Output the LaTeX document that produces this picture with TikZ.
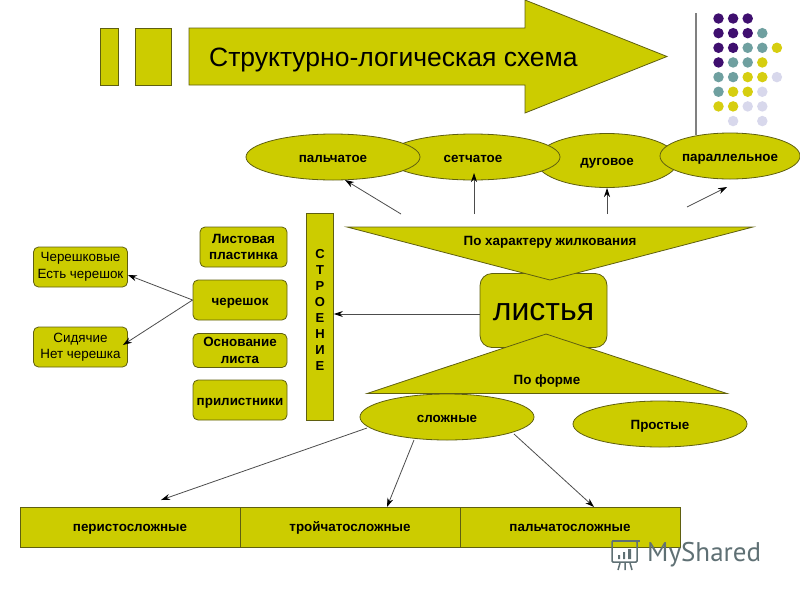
\documentclass[tikz,border=0pt]{standalone}
\usepackage{fontspec}
\setmainfont{Liberation Sans}
\newfontfamily\wmfont{PT Sans}
\usetikzlibrary{shapes.geometric,arrows.meta}
\definecolor{olivey}{HTML}{CCCC00}
\definecolor{edgeo}{HTML}{5F5F10}
\definecolor{purp}{HTML}{3F0F6F}
\definecolor{teal2}{HTML}{6FA0A0}
\definecolor{lime2}{HTML}{D6CE10}
\definecolor{lav}{HTML}{D8D8EC}
\definecolor{wm}{HTML}{5F7074}
\tikzset{
 shapebox/.style={draw=edgeo,fill=olivey,line width=.8pt},
 onetext/.style={text height=10.5pt,text depth=0pt},
 rbox/.style={shapebox,rounded corners=5pt,minimum width=#1,inner sep=0pt,align=center,font=\fontsize{13.4}{16.5}\selectfont\bfseries},
 ell/.style={shapebox,ellipse,inner sep=0pt,font=\fontsize{13.4}{15}\selectfont\bfseries,onetext},
 lab/.style={font=\fontsize{13.4}{15}\selectfont\bfseries,inner sep=0pt,onetext},
 barbox/.style={shapebox,minimum width=220pt,minimum height=40pt,inner sep=0pt,font=\fontsize{13.4}{15}\selectfont\bfseries,text height=8.5pt,text depth=0pt},
 conn/.style={draw=black!70,line width=.8pt,-{Stealth[length=9pt,width=6pt,black]}},
 dotp/.style={fill=#1,draw=none,circle,minimum size=10.5pt,inner sep=0pt},
}
\begin{document}
\begin{tikzpicture}[x=1pt,y=-1pt]
\useasboundingbox (0,0) rectangle (800,600);
% title
\draw[shapebox] (100,28) rectangle (118,85);
\draw[shapebox] (135,28) rectangle (171,85);
\draw[shapebox] (189,28) -- (525,28) -- (525,0) -- (667,56.5) -- (525,113) -- (525,85) -- (189,85) -- cycle;
\node[anchor=west,inner sep=0pt,font=\fontsize{26.5}{30}\selectfont] (title) at (209,60) {Структурно-логическая схема};
% decoration
\draw[gray,line width=1.3pt] (696,13) -- (696,135);
\foreach \col/\row/\c in {0/0/purp,1/0/purp,2/0/purp,
 0/1/purp,1/1/purp,2/1/purp,3/1/teal2,
 0/2/purp,1/2/purp,2/2/teal2,3/2/teal2,4/2/lime2,
 0/3/purp,1/3/teal2,2/3/teal2,3/3/lime2,
 0/4/teal2,1/4/teal2,2/4/lime2,3/4/lime2,4/4/lav,
 0/5/teal2,1/5/lime2,2/5/lime2,3/5/lav,
 0/6/lime2,1/6/lime2,2/6/lav,3/6/lav,
 1/7/lav,3/7/lav}
 \node[dotp=\c] at ({718.5+14.6*\col},{18.5+14.65*\row}) {};
% top ellipses
\node[ell,minimum width=142pt,minimum height=54pt] (dug) at (607,160.5) {дуговое};
\node[ell,minimum width=174pt,minimum height=46pt] (set) at (473,157) {сетчатое};
\node[ell,minimum width=174pt,minimum height=46pt] (pal) at (333,157) {пальчатое};
\node[ell,minimum width=140pt,minimum height=46pt] (par) at (730,156) {параллельное};
% free ends
\coordinate (a1) at (401,214);
\coordinate (a2) at (474,214);
\coordinate (a3) at (607,214);
\coordinate (a4) at (687,207);
\coordinate (t1) at (345,180);
\coordinate (t2) at (474,173);
\coordinate (t3) at (607,188);
\coordinate (t4) at (727,187);
\draw[conn] (a1) -- (t1);
\draw[conn] (a2) -- (t2);
\draw[conn] (a3) -- (t3);
\draw[conn] (a4) -- (t4);
% center
\node[shapebox,rounded corners=12pt,minimum width=127pt,minimum height=74pt,inner sep=0pt,font=\fontsize{32}{36}\selectfont,text height=20pt,text depth=0pt] (leaf) at (543.5,310.5) {листья};
\draw[shapebox] (347,227) -- (753,227) -- (550,280) -- cycle;
\node[lab] (vein) at (550,240.5) {По характеру жилкования};
\draw[shapebox] (367,393.5) -- (546,334) -- (727,393.5) -- cycle;
\node[lab] (form) at (547,379) {По форме};
% simple/complex
\node[ell,minimum width=174pt,minimum height=46pt] (comp) at (447,417) {сложные};
\node[ell,minimum width=174pt,minimum height=46pt] (simp) at (660,424) {Простые};
% structure
\node[shapebox,minimum width=27pt,minimum height=207pt,inner sep=0pt] (str) at (320,317) {};
\node[inner sep=0pt,align=center,font=\fontsize{13}{16}\selectfont\bfseries] (strlab) at (320,309.5) {С\\Т\\Р\\О\\Е\\Н\\И\\Е};
\node[rbox=87pt,minimum height=40pt] (plast) at (243.5,247) {Листовая\\пластинка};
\node[rbox=94pt,minimum height=40pt,onetext] (cher) at (240,300) {черешок};
\node[rbox=94pt,minimum height=34pt] (osn) at (240,350.5) {Основание\\листа};
\node[rbox=94pt,minimum height=40pt,onetext] (pril) at (240,400) {прилистники};
\node[rbox=94pt,minimum height=40pt,font=\fontsize{13.4}{17}\selectfont] (c1) at (80.5,267) {Черешковые\\Есть черешок};
\node[rbox=94pt,minimum height=40pt,font=\fontsize{13.4}{16.5}\selectfont] (c2) at (80.5,347) {Сидячие\\Нет черешка};
\draw[conn] ([yshift=-3.5pt]leaf.west) -- (str.east |- {0,314});
\draw[conn] (cher.west) -- ([yshift=-8pt]c1.east);
\draw[conn] (cher.west) -- ([xshift=-5pt,yshift=2pt]c2.east);
% bottom
\node[barbox] (b1) at (130,527) {перистосложные};
\node[barbox] (b2) at (350,527) {тройчатосложные};
\node[barbox] (b3) at (570,527) {пальчатосложные};
\coordinate (s1) at (367,428);
\coordinate (s2) at (414,440);
\coordinate (s3) at (514,434);
\coordinate (e1) at (161,500);
\coordinate (e2) at (387,507);
\coordinate (e3) at (594,507);
\draw[conn] (s1) -- (e1);
\draw[conn] (s2) -- (e2);
\draw[conn] (s3) -- (e3);
% watermark
\node[anchor=west,inner sep=0pt,text=wm,font=\wmfont\fontsize{27}{30}\selectfont] (wmk) at (647,555) {MyShared};
\draw[wm,line width=1.5pt,rounded corners=1pt] (612,541) rectangle (637,562);
\draw[wm,line width=1.5pt,rounded corners=2pt] (612,541) -- (640,541);
\draw[wm,line width=1.5pt] (620,563) -- (618,570) (625,563) -- (625,570) (630,563) -- (632,570);
\fill[wm] (618,555) rectangle (620,559) (623,552) rectangle (625,559) (628,549) rectangle (631,559);
\end{tikzpicture}
\end{document}
